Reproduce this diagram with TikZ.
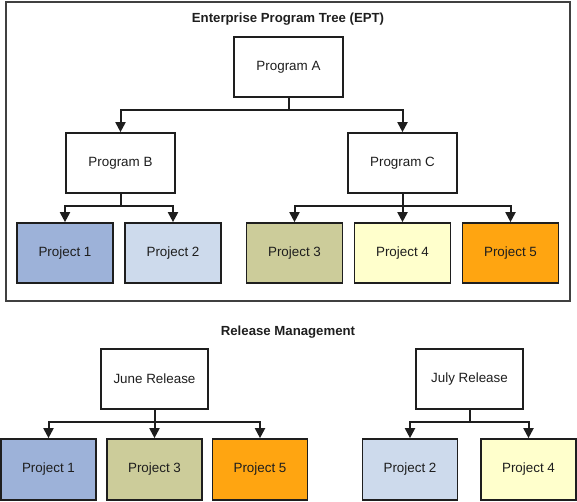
\documentclass[tikz,border=0pt]{standalone}
\usepackage{fontspec}
\setmainfont{Liberation Sans}
\usetikzlibrary{arrows.meta}
\definecolor{pA}{HTML}{9DB2D9}
\definecolor{pB}{HTML}{CDDAEC}
\definecolor{pC}{HTML}{CCCC9A}
\definecolor{pD}{HTML}{FFFFCC}
\definecolor{pE}{HTML}{FFA511}
\definecolor{ink}{HTML}{1E1E1E}
\tikzset{
  box/.style={draw=ink, line width=1.7pt, fill=white, inner sep=0pt,
    minimum width=109pt, minimum height=60pt, font=\fontsize{13.4}{15}\selectfont, text=ink},
  rel/.style={box, minimum width=107pt},
  proj/.style={box, minimum width=96pt},
  projb/.style={box, minimum width=95pt, minimum height=61pt},
  conn/.style={draw=ink, line width=2pt, -{Triangle[width=10pt,length=10pt]}},
  ttl/.style={font=\bfseries\fontsize{13.2}{15}\selectfont, text=ink, inner sep=0pt},
}
\begin{document}
\begin{tikzpicture}[x={(1pt,0)}, y={(0,-1pt)}]
\useasboundingbox (0,0) rectangle (577,501);
\draw[draw=ink!85, line width=2pt] (6,1.5) rectangle (570,301);
\node[ttl] (t1) at (288,19.5) {Enterprise Program Tree (EPT)};
\node[box] (A) at (288.5,67) {Program A};
\node[box] (B) at (120.5,163) {Program B};
\node[box] (C) at (402.5,163) {Program C};
\node[proj, fill=pA] (p1) at (65,253) {Project 1};
\node[proj, fill=pB] (p2) at (173,253) {Project 2};
\node[proj, fill=pC] (p3) at (294.5,253) {Project 3};
\node[proj, fill=pD] (p4) at (402.5,253) {Project 4};
\node[proj, fill=pE] (p5) at (510.5,253) {Project 5};
\draw[conn] (A.south) -- ++(0,12) -| (B.north);
\draw[conn] (A.south) -- ++(0,12) -| (C.north);
\draw[conn] (B.south) -- ++(0,12) -| (p1.north);
\draw[conn] (B.south) -- ++(0,12) -| (p2.north);
\draw[conn] (C.south) -- ++(0,12) -| (p3.north);
\draw[conn] (C.south) -- (p4.north);
\draw[conn] (C.south) -- ++(0,12) -| (p5.north);
\node[ttl] (t2) at (288,332) {Release Management};
\node[rel] (J) at (154.5,379) {June Release};
\node[rel] (L) at (469.5,379) {July Release};
\node[projb, fill=pA] (q1) at (48.5,469.5) {Project 1};
\node[projb, fill=pC] (q3) at (154.5,469.5) {Project 3};
\node[projb, fill=pE] (q5) at (260,469.5) {Project 5};
\node[projb, fill=pB] (q2) at (410,469.5) {Project 2};
\node[projb, fill=pD] (q4) at (528.5,469.5) {Project 4};
\draw[conn] (J.south) -- ++(0,12) -| (q1.north);
\draw[conn] (J.south) -- (q3.north);
\draw[conn] (J.south) -- ++(0,12) -| (q5.north);
\draw[conn] (L.south) -- ++(0,12) -| (q2.north);
\draw[conn] (L.south) -- ++(0,12) -| (q4.north);
\end{tikzpicture}
\end{document}
